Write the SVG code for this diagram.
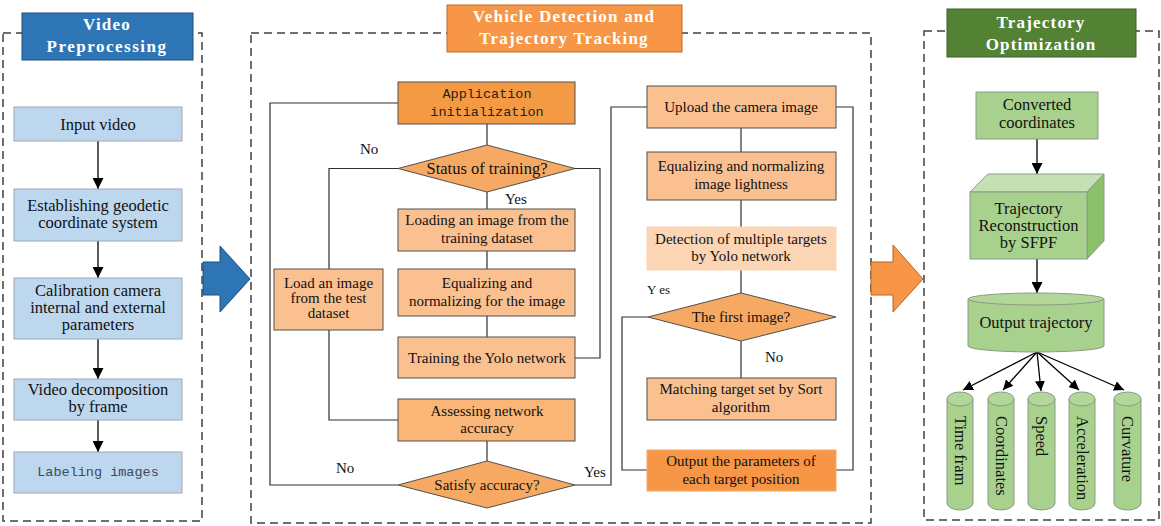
<svg xmlns="http://www.w3.org/2000/svg" width="1161" height="526" viewBox="0 0 1161 526">
<defs>
<marker id="ah" viewBox="0 0 10 10" refX="10" refY="5" markerWidth="10" markerHeight="10" markerUnits="userSpaceOnUse" orient="auto">
<path d="M0,0 L10,5 L0,10 z" fill="#000"/>
</marker>
<marker id="ahb" viewBox="0 0 10 10" refX="10" refY="5" markerWidth="13" markerHeight="11" markerUnits="userSpaceOnUse" orient="auto">
<path d="M0,0 L10,5 L0,10 z" fill="#000"/>
</marker>
</defs>
<style>
.dash{fill:none;stroke:#404040;stroke-width:1.5;stroke-dasharray:8,5}
.t{font-family:"Liberation Serif","Times New Roman",serif;fill:#111}
.s165{font-size:16.5px}
.s15{font-size:15px}
.mono{font-family:"Liberation Mono","Courier New",monospace;font-size:13.5px;fill:#2a2218}
.title{font-family:"Liberation Serif","Times New Roman",serif;font-weight:bold;font-size:17px;fill:#fff;letter-spacing:1.2px}
.blue{fill:#bdd7ee;stroke:#a0a8b4;stroke-width:1}
.pe{fill:#fac090;stroke:#505050;stroke-width:1}
.dk{fill:#f59a44;stroke:#505050;stroke-width:1}
.dia{fill:#f6a963;stroke:#505050;stroke-width:1}
.gr{fill:#a9d18e;stroke:#8c9a84;stroke-width:1}
.ln{fill:none;stroke:#303030;stroke-width:1.2}
.arr{fill:none;stroke:#000;stroke-width:1.3}
</style>

<!-- Panels -->
<g id="panel-left">
<rect class="dash" x="3" y="33" width="199" height="488"/>
<rect x="22" y="13" width="171" height="47" fill="#2e75b6" stroke="#1f4e79"/>
<text class="title" x="107" y="30" text-anchor="middle">Video</text>
<text class="title" x="107" y="52" text-anchor="middle" style="letter-spacing:1.5px">Preprocessing</text>
</g>
<g id="panel-mid">
<rect class="dash" x="251" y="33" width="620" height="490"/>
<rect x="447" y="5" width="235" height="47" fill="#f79646" stroke="#c06a2a"/>
<text class="title" x="564" y="22" text-anchor="middle">Vehicle Detection and</text>
<text class="title" x="564" y="44" text-anchor="middle">Trajectory Tracking</text>
</g>
<g id="panel-right">
<rect class="dash" x="924" y="31" width="235" height="489"/>
<rect x="947" y="9" width="189" height="48" fill="#548235" stroke="#3b5e25"/>
<text class="title" x="1041" y="28" text-anchor="middle">Trajectory</text>
<text class="title" x="1041" y="50" text-anchor="middle">Optimization</text>
</g>

<!-- Connectors -->
<g id="connectors">
<line class="arr" x1="98" y1="141" x2="98" y2="189" marker-end="url(#ahb)"/>
<line class="arr" x1="98" y1="241" x2="98" y2="278" marker-end="url(#ahb)"/>
<line class="arr" x1="98" y1="339" x2="98" y2="379" marker-end="url(#ahb)"/>
<line class="arr" x1="98" y1="420" x2="98" y2="452" marker-end="url(#ahb)"/>

<polyline class="ln" points="398,103 270,103 270,485 398,485"/>
<line class="ln" x1="487" y1="124" x2="487" y2="145"/>
<polyline class="ln" points="398,168.5 329,168.5 329,269"/>
<polyline class="ln" points="575,168.5 600,168.5 600,358 575,358"/>
<line class="ln" x1="487" y1="192" x2="487" y2="209"/>
<line class="ln" x1="487" y1="251" x2="487" y2="269"/>
<line class="ln" x1="487" y1="316" x2="487" y2="337"/>
<polyline class="ln" points="329,330 329,420 398,420"/>
<line class="ln" x1="487" y1="441" x2="487" y2="461"/>
<polyline class="ln" points="575,485 611,485 611,107 647,107"/>

<polyline class="ln" points="836,107 853,107 853,470 836,470"/>
<line class="ln" x1="741" y1="128" x2="741" y2="152"/>
<line class="ln" x1="741" y1="200" x2="741" y2="227"/>
<line class="ln" x1="741" y1="270" x2="741" y2="293"/>
<line class="ln" x1="741" y1="341" x2="741" y2="378"/>
<polyline class="ln" points="648,317 622,317 622,470 647,470"/>

<line class="arr" x1="1037" y1="139" x2="1037" y2="174" marker-end="url(#ahb)"/>
<line class="arr" x1="1037" y1="259" x2="1037" y2="293" marker-end="url(#ahb)"/>
<line class="arr" x1="1037" y1="352" x2="963" y2="390" marker-end="url(#ah)"/>
<line class="arr" x1="1037" y1="352" x2="1003" y2="390" marker-end="url(#ah)"/>
<line class="arr" x1="1037" y1="352" x2="1041" y2="391" marker-end="url(#ah)"/>
<line class="arr" x1="1037" y1="352" x2="1079" y2="390" marker-end="url(#ah)"/>
<line class="arr" x1="1037" y1="352" x2="1124" y2="390" marker-end="url(#ah)"/>

<text class="t s15" x="360" y="154">No</text>
<text class="t s15" x="505" y="204">Yes</text>
<text class="t s15" x="336" y="473">No</text>
<text class="t s15" x="584" y="477">Yes</text>
<text class="t" x="647" y="294" style="font-size:13px">Y es</text>
<text class="t s15" x="765" y="362">No</text>
</g>

<!-- Big arrows -->
<g id="arrow-blue">
<polygon points="203,262 220,262 220,246 250,279 220,312 220,295 203,295" fill="#2e75b6" stroke="#1f4e79"/>
</g>
<g id="arrow-orange">
<polygon points="871,262 893,262 893,245 923,279 893,312 893,295 871,295" fill="#f79646" stroke="#b8651f"/>
</g>

<!-- Left panel nodes -->
<g id="input-video">
<rect class="blue" x="14" y="107" width="168" height="34"/>
<text class="t s165" x="98" y="130" text-anchor="middle">Input video</text>
</g>
<g id="geodetic">
<rect class="blue" x="14" y="189" width="168" height="52"/>
<text class="t s165" x="98" y="211" text-anchor="middle">Establishing geodetic</text>
<text class="t s165" x="98" y="228" text-anchor="middle">coordinate system</text>
</g>
<g id="calibration">
<rect class="blue" x="14" y="278" width="168" height="61"/>
<text class="t s165" x="98" y="296" text-anchor="middle">Calibration camera</text>
<text class="t s165" x="98" y="313" text-anchor="middle">internal and external</text>
<text class="t s165" x="98" y="330" text-anchor="middle">parameters</text>
</g>
<g id="decomposition">
<rect class="blue" x="14" y="379" width="168" height="41"/>
<text class="t s165" x="98" y="395" text-anchor="middle">Video decomposition</text>
<text class="t s165" x="98" y="412" text-anchor="middle">by frame</text>
</g>
<g id="labeling">
<rect class="blue" x="14" y="452" width="168" height="41"/>
<text class="mono" x="98" y="476" text-anchor="middle" style="fill:#3a4a60">Labeling images</text>
</g>

<!-- Middle left column -->
<g id="app-init">
<rect class="dk" x="398" y="82" width="177" height="42"/>
<text class="mono" x="487" y="98" text-anchor="middle">Application</text>
<text class="mono" x="487" y="116" text-anchor="middle">initialization</text>
</g>
<g id="status-training">
<polygon class="dia" points="398,168.5 487,145 575,168.5 487,192"/>
<text class="t s165" x="487" y="174" text-anchor="middle">Status of training?</text>
</g>
<g id="loading">
<rect class="pe" x="398" y="209" width="177" height="42"/>
<text class="t s15" x="487" y="225" text-anchor="middle">Loading an image from the</text>
<text class="t s15" x="487" y="243" text-anchor="middle">training dataset</text>
</g>
<g id="equalizing">
<rect class="pe" x="398" y="269" width="177" height="47"/>
<text class="t s15" x="487" y="288" text-anchor="middle">Equalizing and</text>
<text class="t s15" x="487" y="306" text-anchor="middle">normalizing for the image</text>
</g>
<g id="training">
<rect class="pe" x="398" y="337" width="177" height="41"/>
<text class="t s15" x="487" y="363" text-anchor="middle">Training the Yolo network</text>
</g>
<g id="load-test">
<rect class="pe" x="274" y="269" width="109" height="61"/>
<text class="t s15" x="328.5" y="288" text-anchor="middle">Load an image</text>
<text class="t s15" x="328.5" y="303" text-anchor="middle">from the test</text>
<text class="t s15" x="328.5" y="318" text-anchor="middle">dataset</text>
</g>
<g id="assessing">
<rect x="398" y="399" width="177" height="42" fill="#f9b676" stroke="#505050"/>
<text class="t s15" x="487" y="416" text-anchor="middle">Assessing network</text>
<text class="t s15" x="487" y="433" text-anchor="middle">accuracy</text>
</g>
<g id="satisfy">
<polygon class="dia" points="398,485 487,461 575,485 487,508"/>
<text class="t s15" x="487" y="490" text-anchor="middle">Satisfy accuracy?</text>
</g>

<!-- Middle right column -->
<g id="upload">
<rect class="pe" x="647" y="86" width="189" height="42"/>
<text class="t s15" x="741" y="112" text-anchor="middle">Upload the camera image</text>
</g>
<g id="equalizing-light">
<rect class="pe" x="647" y="152" width="189" height="48"/>
<text class="t s15" x="741" y="171" text-anchor="middle">Equalizing and normalizing</text>
<text class="t s15" x="741" y="189" text-anchor="middle">image lightness</text>
</g>
<g id="detection">
<rect x="647" y="227" width="189" height="43" fill="#fcd5b5" stroke="#fcd5b5"/>
<text class="t s15" x="741" y="244" text-anchor="middle">Detection of multiple targets</text>
<text class="t s15" x="741" y="261" text-anchor="middle">by Yolo network</text>
</g>
<g id="first-image">
<polygon class="dia" points="648,317 741,293 836,317 741,341"/>
<text class="t s15" x="741" y="322" text-anchor="middle">The first image?</text>
</g>
<g id="matching">
<rect class="pe" x="647" y="378" width="189" height="42"/>
<text class="t s15" x="741" y="394" text-anchor="middle">Matching target set by Sort</text>
<text class="t s15" x="741" y="412" text-anchor="middle">algorithm</text>
</g>
<g id="output-params">
<rect x="647" y="450" width="189" height="41" fill="#f79646" stroke="#f8a866"/>
<text class="t s15" x="741" y="466" text-anchor="middle">Output the parameters of</text>
<text class="t s15" x="741" y="484" text-anchor="middle">each target position</text>
</g>

<!-- Right panel nodes -->
<g id="converted">
<rect class="gr" x="976" y="92" width="122" height="47"/>
<text class="t s165" x="1037" y="110" text-anchor="middle">Converted</text>
<text class="t s165" x="1037" y="128" text-anchor="middle">coordinates</text>
</g>
<g id="reconstruction">
<polygon points="970,192 988,174 1104,174 1087,192" fill="#c5e0b4" stroke="#8c9a84"/>
<polygon points="1087,192 1104,174 1104,241 1087,259" fill="#8cc06a" stroke="#8c9a84"/>
<rect class="gr" x="970" y="192" width="117" height="67"/>
<text class="t s165" x="1028.5" y="214" text-anchor="middle">Trajectory</text>
<text class="t s165" x="1028.5" y="231" text-anchor="middle">Reconstruction</text>
<text class="t s165" x="1028.5" y="248" text-anchor="middle">by SFPF</text>
</g>
<g id="output-trajectory">
<path class="gr" d="M968,299 L968,346 A68,6 0 0 0 1104,346 L1104,299"/>
<ellipse class="gr" cx="1036" cy="299" rx="68" ry="6" style="fill:#b3d69b"/>
<text class="t s165" x="1036" y="328" text-anchor="middle">Output trajectory</text>
</g>
<g id="time-frame">
<path class="gr" d="M947,399 L947,503 A13,7 0 0 0 973,503 L973,399"/>
<ellipse class="gr" cx="960" cy="399" rx="13" ry="7" style="fill:#b3d69b"/>
<text class="t s165" transform="translate(954.5,416) rotate(90)">Time fram</text>
</g>
<g id="coordinates">
<path class="gr" d="M988,399 L988,503 A13,7 0 0 0 1014,503 L1014,399"/>
<ellipse class="gr" cx="1001" cy="399" rx="13" ry="7" style="fill:#b3d69b"/>
<text class="t s165" transform="translate(995.5,416) rotate(90)">Coordinates</text>
</g>
<g id="speed">
<path class="gr" d="M1028,399 L1028,503 A13.5,7 0 0 0 1055,503 L1055,399"/>
<ellipse class="gr" cx="1041.5" cy="399" rx="13.5" ry="7" style="fill:#b3d69b"/>
<text class="t s165" transform="translate(1036,416) rotate(90)">Speed</text>
</g>
<g id="acceleration">
<path class="gr" d="M1069,399 L1069,503 A13,7 0 0 0 1095,503 L1095,399"/>
<ellipse class="gr" cx="1082" cy="399" rx="13" ry="7" style="fill:#b3d69b"/>
<text class="t s165" transform="translate(1076.5,416) rotate(90)">Acceleration</text>
</g>
<g id="curvature">
<path class="gr" d="M1114,399 L1114,503 A13.5,7 0 0 0 1141,503 L1141,399"/>
<ellipse class="gr" cx="1127.5" cy="399" rx="13.5" ry="7" style="fill:#b3d69b"/>
<text class="t s165" transform="translate(1122,416) rotate(90)">Curvature</text>
</g>
</svg>
